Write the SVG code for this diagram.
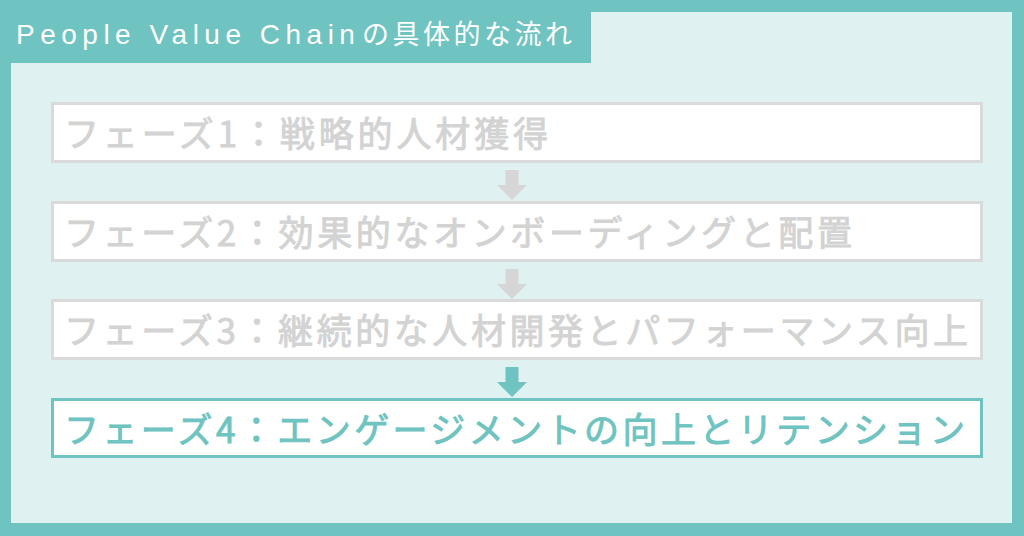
<svg xmlns="http://www.w3.org/2000/svg" width="1024" height="536" viewBox="0 0 1024 536">
  <style>
    .box { fill: #ffffff; stroke: #dadada; stroke-width: 3; }
    .box.active { stroke: #6fc3c0; }
    .lbl { font-family: "Noto Sans CJK JP", "Noto Sans", sans-serif; font-size: 35px; font-weight: 400; fill: #d3d3d3; stroke: #d3d3d3; stroke-width: 0.9px; dominant-baseline: central; }
    .lbl.active { fill: #6fc3c0; stroke: #6fc3c0; }
    .arrow { fill: #d6d6d6; }
    .arrow.active { fill: #6fc3c0; }
    .title { font-family: "Liberation Sans", Arial, sans-serif; font-size: 28px; fill: #ffffff; letter-spacing: 5.5px; }
    .title .jp { font-family: "Noto Sans CJK JP", sans-serif; font-size: 27px; letter-spacing: 3.5px; }
  </style>
  <defs>
    <path id="arr" d="M -6.5 0 H 6.5 V 15 H 15 L 0 30 L -15 15 H -6.5 Z"/>
  </defs>
  <rect x="0" y="0" width="1024" height="536" fill="#6fc3c0"/>
  <rect x="11" y="12" width="1001" height="511" fill="#e0f1f1"/>
  <g id="title">
    <rect x="11" y="12" width="580" height="51" fill="#6fc3c0"/>
    <text class="title" x="16" y="43.5">People Value Chain<tspan class="jp" x="362">の具体的な流れ</tspan></text>
  </g>
  <g id="connectors">
    <use href="#arr" class="arrow" x="512" y="170"/>
    <use href="#arr" class="arrow" x="512" y="269"/>
    <use href="#arr" class="arrow active" x="512" y="367"/>
  </g>
  <g id="phase1">
    <rect class="box" x="52.5" y="103.5" width="929" height="58"/>
    <text class="lbl" x="64" y="131" textLength="484" lengthAdjust="spacing">フェーズ1：戦略的人材獲得</text>
  </g>
  <g id="phase2">
    <rect class="box" x="52.5" y="202.5" width="929" height="58"/>
    <text class="lbl" x="64" y="230" textLength="788" lengthAdjust="spacing">フェーズ2：効果的なオンボーディングと配置</text>
  </g>
  <g id="phase3">
    <rect class="box" x="52.5" y="300.5" width="929" height="58"/>
    <text class="lbl" x="64" y="328.5" textLength="904" lengthAdjust="spacing">フェーズ3：継続的な人材開発とパフォーマンス向上</text>
  </g>
  <g id="phase4">
    <rect class="box active" x="52.5" y="399.5" width="929" height="57"/>
    <text class="lbl active" x="64" y="427" textLength="901" lengthAdjust="spacing">フェーズ4：エンゲージメントの向上とリテンション</text>
  </g>
</svg>
